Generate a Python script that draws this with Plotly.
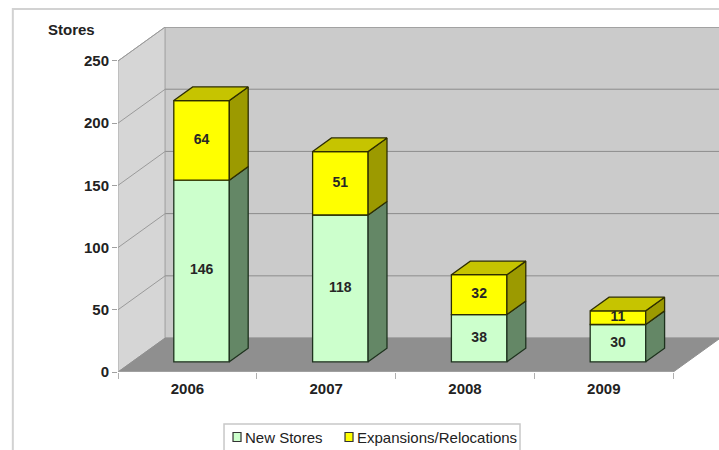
import plotly.graph_objects as go

# Store openings per year
years = ["2006", "2007", "2008", "2009"]
new_stores = [146, 118, 38, 30]
expansions = [64, 51, 32, 11]
series_names = ["New Stores", "Expansions/Relocations"]
y_ticks = [0, 50, 100, 150, 200, 250]

FONT = "Arial, Liberation Sans, sans-serif"
TEXT = "#222222"

# Oblique depth of the 3D box (in axis units) and where bars sit inside it
DEPTH_X = 0.34
DEPTH_Y = 27.3
F0, F1 = 0.30, 0.70
HALF_W = 0.20
Y_MAX = 250

styles = [
    dict(front="#ccffcc", side="#648766", top="#a8d0a8", edge="#1e321e"),
    dict(front="#ffff00", side="#9c9a00", top="#c6c400", edge="#2e2e00"),
]

fig = go.Figure()
shapes = []

x_left, x_right = -0.5, len(years) - 0.5

# Walls and floor
def poly(pts):
    return "M " + " L ".join(f"{x},{y}" for x, y in pts) + " Z"

shapes.append(dict(type="path", xref="x", yref="y", layer="below",
                   path=poly([(x_left, 0), (x_left, Y_MAX), (x_left + DEPTH_X, Y_MAX + DEPTH_Y),
                              (x_left + DEPTH_X, DEPTH_Y)]),
                   fillcolor="#d6d6d6", line=dict(color="#a8a8a8", width=1)))
shapes.append(dict(type="rect", xref="x", yref="y", layer="below",
                   x0=x_left + DEPTH_X, x1=x_right + DEPTH_X, y0=DEPTH_Y, y1=Y_MAX + DEPTH_Y,
                   fillcolor="#cbcbcb", line=dict(color="#a8a8a8", width=1)))
shapes.append(dict(type="path", xref="x", yref="y", layer="below",
                   path=poly([(x_left, 0), (x_right, 0), (x_right + DEPTH_X, DEPTH_Y),
                              (x_left + DEPTH_X, DEPTH_Y)]),
                   fillcolor="#8f8f8f", line=dict(color="#8f8f8f", width=1)))

# Gridlines on the back and side walls
for v in y_ticks[1:]:
    shapes.append(dict(type="line", xref="x", yref="y", layer="below",
                       x0=x_left + DEPTH_X, x1=x_right + DEPTH_X, y0=v + DEPTH_Y, y1=v + DEPTH_Y,
                       line=dict(color="#8c8c8c", width=1)))
    shapes.append(dict(type="line", xref="x", yref="y", layer="below",
                       x0=x_left, x1=x_left + DEPTH_X, y0=v, y1=v + DEPTH_Y,
                       line=dict(color="#9a9a9a", width=1)))

# Front floor edge
shapes.append(dict(type="line", xref="x", yref="y", layer="below",
                   x0=x_left, x1=x_right, y0=0, y1=0, line=dict(color="#b0b0b0", width=1)))

positions = list(range(len(years)))
front_x = [p + F0 * DEPTH_X for p in positions]
dd_x = (F1 - F0) * DEPTH_X
dd_y = (F1 - F0) * DEPTH_Y

label_x, label_y, label_t = [], [], []
bases = [0] * len(years)
for si, (name, vals) in enumerate(zip(series_names, [new_stores, expansions])):
    st = styles[si]
    fig.add_trace(go.Bar(
        x=front_x, y=vals, base=[b + F0 * DEPTH_Y for b in bases], width=2 * HALF_W,
        name=name, showlegend=False,
        marker=dict(color=st["front"], line=dict(color=st["edge"], width=1.3)),
    ))
    for i, v in enumerate(vals):
        xr = front_x[i] + HALF_W
        xl = front_x[i] - HALF_W
        y0 = bases[i] + F0 * DEPTH_Y
        y1 = y0 + v
        side = [(xr, y0), (xr + dd_x, y0 + dd_y), (xr + dd_x, y1 + dd_y), (xr, y1), (xr, y0)]
        fig.add_trace(go.Scatter(x=[p[0] for p in side], y=[p[1] for p in side],
                                 mode="lines", fill="toself", fillcolor=st["side"],
                                 line=dict(color=st["edge"], width=1.3),
                                 showlegend=False, hoverinfo="skip"))
        if si == 1:
            top = [(xl, y1), (xr, y1), (xr + dd_x, y1 + dd_y), (xl + dd_x, y1 + dd_y), (xl, y1)]
            fig.add_trace(go.Scatter(x=[p[0] for p in top], y=[p[1] for p in top],
                                     mode="lines", fill="toself", fillcolor=st["top"],
                                     line=dict(color=st["edge"], width=1.3),
                                     showlegend=False, hoverinfo="skip"))
        label_x.append(front_x[i])
        label_y.append(y0 + v / 2)
        label_t.append(f"<b>{v}</b>")
    bases = [b + v for b, v in zip(bases, vals)]

fig.add_trace(go.Scatter(x=label_x, y=label_y, text=label_t, mode="text",
                         textfont=dict(family=FONT, size=14, color="#262626"),
                         showlegend=False, hoverinfo="skip"))

# Outer chart border
shapes.append(dict(type="rect", xref="paper", yref="paper", layer="below",
                   x0=-0.175, x1=1.2, y0=-0.4, y1=1.052,
                   line=dict(color="#d2d2d2", width=2), fillcolor="rgba(0,0,0,0)"))

# Legend box and swatches
shapes.append(dict(type="rect", xref="paper", yref="paper",
                   x0=0.1764, x1=0.6689, y0=-0.32, y1=-0.1507,
                   line=dict(color="#c8c8c8", width=1.5), fillcolor="white"))
annotations = []
legend_items = [(0.1764 + 9 / 601, 0.1764 + 18 / 601), (0.1764 + 121 / 601, 0.1764 + 128 / 601)]
sw_y = -(437 - 372) / 345
for si, name in enumerate(series_names):
    sx = legend_items[si][0]
    shapes.append(dict(type="rect", xref="paper", yref="paper",
                       x0=sx, x1=sx + 8 / 601, y0=sw_y - 4.5 / 345, y1=sw_y + 4.5 / 345,
                       fillcolor=styles[si]["front"], line=dict(color="#333333", width=1.2)))
    annotations.append(dict(xref="paper", yref="paper", x=sx + 10 / 601, y=sw_y,
                            xanchor="left", yanchor="middle", showarrow=False, text=name,
                            font=dict(family=FONT, size=15, color=TEXT)))

annotations.append(dict(xref="paper", yref="paper", x=-(118 - 71) / 601, y=(372 - 29) / 345,
                        xanchor="center", yanchor="middle", showarrow=False,
                        text="<b>Stores</b>", font=dict(family=FONT, size=15, color=TEXT)))

fig.update_layout(
    width=719, height=450,
    margin=dict(l=118, r=0, t=27, b=78),
    paper_bgcolor="white", plot_bgcolor="white",
    barmode="overlay", showlegend=False,
    shapes=shapes, annotations=annotations,
    xaxis=dict(range=[-0.5, 3.83], tickmode="array", tickvals=positions,
               ticktext=[f"<b>{y}</b>" for y in years], ticks="", showgrid=False,
               zeroline=False, showline=False, ticklabelstandoff=6,
               tickfont=dict(family=FONT, size=15, color=TEXT),
               minor=dict(tick0=0.5, dtick=1, ticks="outside", ticklen=6,
                          tickcolor="#b0b0b0", showgrid=False)),
    yaxis=dict(range=[0, Y_MAX + DEPTH_Y], tickmode="array", tickvals=y_ticks,
               ticktext=[f"<b>{t}</b>" for t in y_ticks], ticks="outside", ticklen=5,
               tickcolor="#a0a0a0", showgrid=False, zeroline=False, showline=False,
               tickfont=dict(family=FONT, size=15, color=TEXT)),
)

fig.write_html("out.html")
